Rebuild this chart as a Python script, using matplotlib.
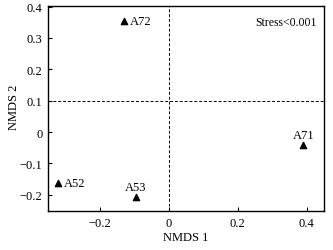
import matplotlib
matplotlib.use("Agg")
from matplotlib import pyplot as plt

# NMDS coordinates
samples = ['A72', 'A52', 'A53', 'A71']
nmds1 = [-0.13, -0.32, -0.095, 0.39]
nmds2 = [0.353, -0.162, -0.207, -0.043]

plt.rcParams['font.family'] = ['Liberation Serif', 'DejaVu Serif']
plt.rcParams['font.size'] = 9

fig = plt.figure(figsize=(3.33, 2.51), dpi=100)
ax = fig.add_axes([48/333, 1 - 212/251, (324-48)/333, (212-7)/251])

ax.scatter(nmds1, nmds2, marker='^', s=20, color='black', zorder=3)

# label offsets (points) so text sits like the original
offsets = {'A72': (4, 0, 'left', 'center'),
           'A52': (4, 0, 'left', 'center'),
           'A53': (0, 3, 'center', 'bottom'),
           'A71': (0, 3, 'center', 'bottom')}
for name, x, y in zip(samples, nmds1, nmds2):
    dx, dy, ha, va = offsets[name]
    ax.annotate(name, (x, y), xytext=(dx, dy), textcoords='offset points',
                ha=ha, va=va, fontsize=9)

ax.axvline(0, color='black', linestyle='--', linewidth=0.7, dashes=(3, 2))
ax.axhline(0.1, color='black', linestyle='--', linewidth=0.7, dashes=(3, 2))

ax.set_xlim(-0.35, 0.45)
ax.set_ylim(-0.252, 0.402)
ax.set_xticks([-0.2, 0, 0.2, 0.4])
ax.set_xticklabels(['\u22120.2', '0', '0.2', '0.4'])
ax.set_yticks([-0.2, -0.1, 0, 0.1, 0.2, 0.3, 0.4])
ax.set_yticklabels(['\u22120.2', '\u22120.1', '0', '0.1', '0.2', '0.3', '0.4'])
ax.tick_params(direction='in', length=3, width=0.8, labelsize=9, pad=4)

for sp in ax.spines.values():
    sp.set_linewidth(1.0)

ax.set_xlabel('NMDS 1', fontsize=9, labelpad=2)
ax.set_ylabel('NMDS 2', fontsize=9)
ax.yaxis.set_label_coords(-0.10, 0.51)
ax.text(0.975, 0.92, 'Stress<0.001', transform=ax.transAxes, ha='right', va='center', fontsize=8.5)

fig.savefig('out.png', dpi=100)
